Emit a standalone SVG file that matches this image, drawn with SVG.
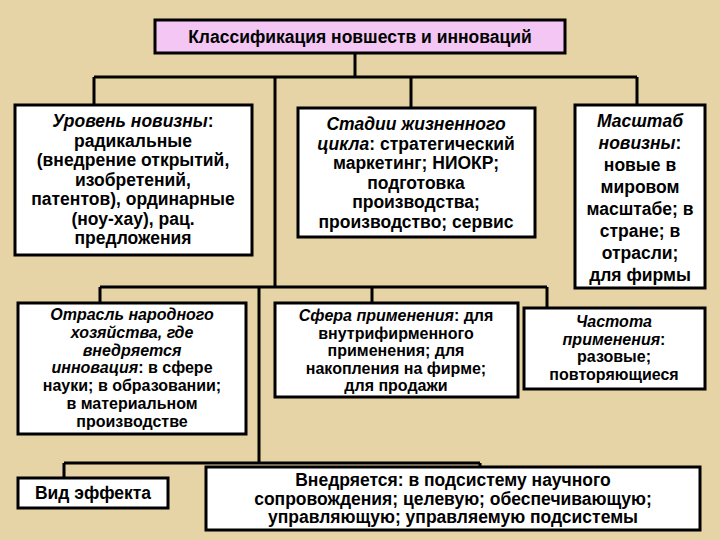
<svg xmlns="http://www.w3.org/2000/svg" width="720" height="540" viewBox="0 0 720 540">
<style>
.b{fill:#fff;stroke:#000;stroke-width:3}
text{font-family:"Liberation Sans",Arial,sans-serif;font-weight:bold;font-size:17.5px;text-anchor:middle;fill:#000}
.s{font-size:16px}
.i{font-style:italic}
.c{stroke:#000;stroke-width:3;fill:none}
</style>
<rect width="720" height="540" fill="#e6d3a6"/>
<g id="connectors">
<path class="c" d="M355 53V77M94 77H637M94 77V105M411 77V108M637 77V105M275 77V287M100 287H547M100 287V303M372 287V303M547 287V308M259 287V463M64 463H480M64 463V478M480 463V467"/>
</g>
<g id="title"><rect x="155" y="20" width="410" height="33" fill="#f3c6f3" stroke="#000" stroke-width="3"/><text x="360" y="43">Классификация новшеств и инноваций</text></g>
<g id="n1"><rect class="b" x="15" y="105" width="237" height="150"/>
<text x="133" y="127"><tspan class="i">Уровень новизны</tspan>:<tspan x="133" dy="19.5">радикальные</tspan><tspan x="133" dy="19.5">(внедрение открытий,</tspan><tspan x="133" dy="19.5">изобретений,</tspan><tspan x="133" dy="19.5">патентов), ординарные</tspan><tspan x="133" dy="19.5">(ноу-хау), рац.</tspan><tspan x="133" dy="19.5">предложения</tspan></text></g>
<g id="n2"><rect class="b" x="298" y="108" width="237" height="129"/>
<text x="416" y="130"><tspan class="i">Стадии жизненного</tspan><tspan x="416" dy="19.5"><tspan class="i">цикла</tspan>: стратегический</tspan><tspan x="416" dy="19.5">маркетинг; НИОКР;</tspan><tspan x="416" dy="19.5">подготовка</tspan><tspan x="416" dy="19.5">производства;</tspan><tspan x="416" dy="19.5">производство; сервис</tspan></text></g>
<g id="n3"><rect class="b" x="575" y="105" width="130" height="183"/>
<text x="640" y="127"><tspan class="i">Масштаб</tspan><tspan x="640" dy="22" class="i">новизны</tspan>:<tspan x="640" dy="22">новые в</tspan><tspan x="640" dy="22">мировом</tspan><tspan x="640" dy="22">масштабе; в</tspan><tspan x="640" dy="22">стране; в</tspan><tspan x="640" dy="22">отрасли;</tspan><tspan x="640" dy="22">для фирмы</tspan></text></g>
<g id="n4"><rect class="b" x="18" y="303" width="228" height="131"/>
<text class="s" x="132" y="320"><tspan class="i">Отрасль народного</tspan><tspan x="132" dy="17.8" class="i">хозяйства, где</tspan><tspan x="132" dy="17.8" class="i">внедряется</tspan><tspan x="132" dy="17.8"><tspan class="i">инновация</tspan>: в сфере</tspan><tspan x="132" dy="17.8">науки; в образовании;</tspan><tspan x="132" dy="17.8">в материальном</tspan><tspan x="132" dy="17.8">производстве</tspan></text></g>
<g id="n5"><rect class="b" x="275" y="303" width="243" height="94"/>
<text class="s" x="396" y="321"><tspan class="i">Сфера применения</tspan>: для<tspan x="396" dy="17.5">внутрифирменного</tspan><tspan x="396" dy="17.5">применения; для</tspan><tspan x="396" dy="17.5">накопления на фирме;</tspan><tspan x="396" dy="17.5">для продажи</tspan></text></g>
<g id="n6"><rect class="b" x="524" y="308" width="181" height="81"/>
<text class="s" x="614" y="327"><tspan class="i">Частота</tspan><tspan x="614" dy="17.5" class="i">применения</tspan>:<tspan x="614" dy="17.5">разовые;</tspan><tspan x="614" dy="17.5">повторяющиеся</tspan></text></g>
<g id="n7"><rect class="b" x="18" y="478" width="150" height="30"/><text x="93" y="499">Вид эффекта</text></g>
<g id="n8"><rect class="b" x="206" y="467" width="494" height="63"/>
<text x="453" y="486">Внедряется: в подсистему научного<tspan x="453" dy="18.5">сопровождения; целевую; обеспечивающую;</tspan><tspan x="453" dy="18.5">управляющую; управляемую подсистемы</tspan></text></g>
</svg>
